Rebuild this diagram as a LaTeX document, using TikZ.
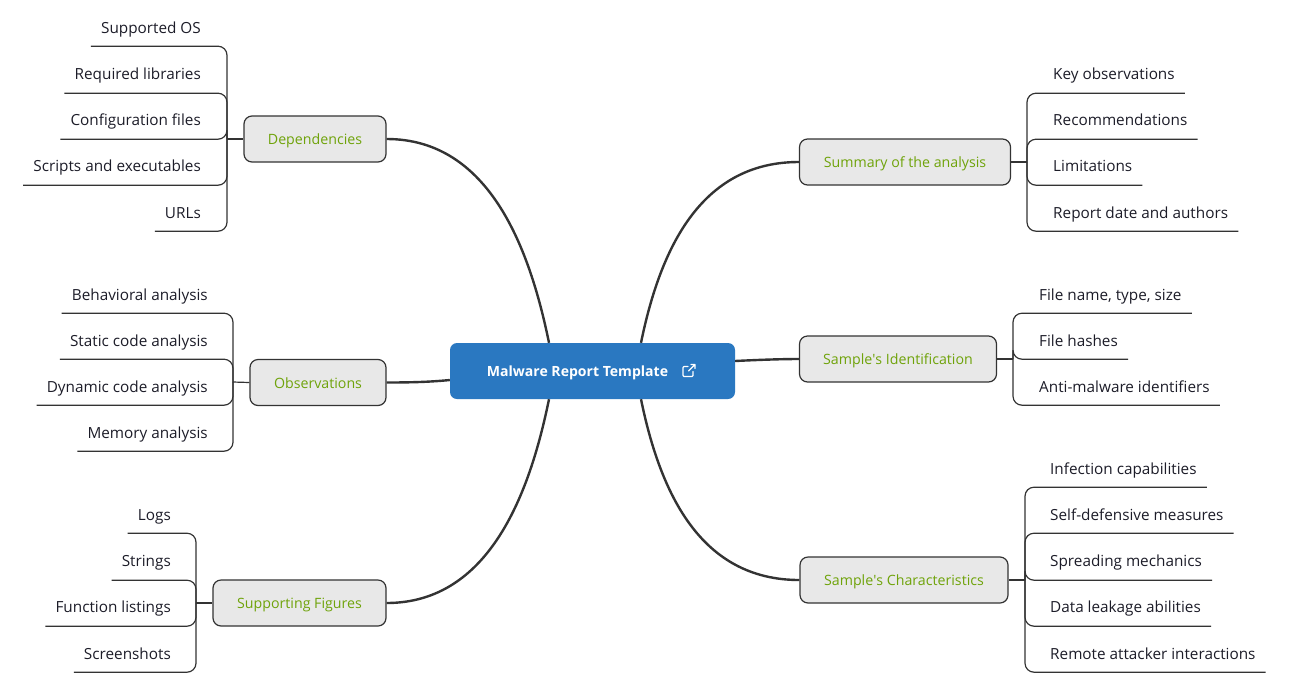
\documentclass[tikz,border=0pt]{standalone}
\usepackage{fontspec}
\setmainfont{Open Sans}
\definecolor{rootblue}{HTML}{2A78C1}
\definecolor{branchgreen}{HTML}{6FA30A}
\definecolor{branchfill}{HTML}{E8E8E8}
\definecolor{ink}{HTML}{333333}
\definecolor{leafink}{HTML}{1C1C28}
\tikzset{
  rootbox/.style={fill=rootblue,rounded corners=7pt,inner sep=0pt,text=white},
  branch/.style={draw=ink,line width=1.2pt,fill=branchfill,rounded corners=8pt,inner sep=0pt,
    text=branchgreen,text height=12pt,text depth=1pt,font=\fontsize{14.2}{16}\selectfont},
  leaf/.style={inner xsep=10pt,inner ysep=0pt,minimum height=36pt,text=leafink,
    text height=12pt,text depth=2pt,font=\fontsize{15.3}{18}\selectfont},
  leafL/.style={leaf,anchor=east},
  leafR/.style={leaf,anchor=west},
  tall/.style={minimum height=38pt},
  twig/.style={draw=ink,line width=1.2pt,rounded corners=9pt},
  stem/.style={draw=ink,line width=1.2pt},
  limb/.style={draw=ink,line width=2.4pt},
  icon/.style={draw=white,line width=1.2pt,line cap=round,line join=round},
}
\begin{document}
\begin{tikzpicture}[x=1pt,y=-1pt]
\useasboundingbox (0,0) rectangle (1289,686);
% centre
\node[rootbox,minimum width=285pt,minimum height=56pt] (root) at (592.5,371) {};
\node[inner sep=0pt,text=white,text height=13pt,text depth=2.5pt,font=\bfseries\fontsize{14.05}{16}\selectfont] (roottext) at (577.5,371) {Malware Report Template};
% branches
\node[branch,minimum width=142pt,minimum height=46pt] (dep) at (315,139) {Dependencies};
\node[branch,minimum width=136pt,minimum height=46pt] (obs) at (318,382.5) {Observations};
\node[branch,minimum width=173pt,minimum height=46pt] (fig) at (299.5,603) {Supporting Figures};
\node[branch,minimum width=211pt,minimum height=46pt] (sum) at (905,162) {Summary of the analysis};
\node[branch,minimum width=197pt,minimum height=46pt] (ide) at (898,359) {Sample\textquotesingle s Identification};
\node[branch,minimum width=208pt,minimum height=46pt] (cha) at (904,580) {Sample\textquotesingle s Characteristics};
% limbs
\draw[limb] (dep.east) .. controls (490,139) and (530,250) .. (root.north -| 549,0);
\draw[limb] (obs.east) .. controls (410,382.5) and (430,382) .. (root.west |- 0,380);
\draw[limb] (fig.east) .. controls (490,603) and (530,492) .. (root.south -| 549,0);
\draw[limb] (sum.west) .. controls (700,162) and (660,250) .. (root.north -| 641,0);
\draw[limb] (ide.west) .. controls (780,359) and (755,360) .. (root.east |- 0,361);
\draw[limb] (cha.west) .. controls (700,580) and (660,492) .. (root.south -| 641,0);
% junctions
\coordinate (jdep) at (227,139);
\coordinate (jobs) at (233,382);
\coordinate (jfig) at (196,603);
\coordinate (jsum) at (1027,162);
\coordinate (jide) at (1013,359);
\coordinate (jcha) at (1025,580);
% Dependencies leaves
\node[leafL] (d1) at (211,28) {Supported OS};
\node[leafL,tall] (d2) at (211,74) {Required libraries};
\node[leafL,tall] (d3) at (211,120) {Configuration files};
\node[leafL,tall] (d4) at (211,166) {Scripts and executables};
\node[leafL] (d5) at (211,213) {URLs};
% Observations leaves
\node[leafL] (o1) at (218,295) {Behavioral analysis};
\node[leafL] (o2) at (218,341) {Static code analysis};
\node[leafL] (o3) at (218,387) {Dynamic code analysis};
\node[leafL] (o4) at (218,433) {Memory analysis};
% Figures leaves
\node[leafL] (f1) at (181,515) {Logs};
\node[leafL,tall] (f2) at (181,561) {Strings};
\node[leafL,tall] (f3) at (181,607) {Function listings};
\node[leafL] (f4) at (181,654) {Screenshots};
% Summary leaves
\node[leafR,tall] (s1) at (1043,74) {Key observations};
\node[leafR,tall] (s2) at (1043,120) {Recommendations};
\node[leafR,tall] (s3) at (1043,166) {Limitations};
\node[leafR] (s4) at (1043,213) {Report date and authors};
% Identification leaves
\node[leafR] (i1) at (1029,295) {File name, type, size};
\node[leafR] (i2) at (1029,341) {File hashes};
\node[leafR] (i3) at (1029,387) {Anti-malware identifiers};
% Characteristics leaves
\node[leafR] (c1) at (1040,469) {Infection capabilities};
\node[leafR] (c2) at (1040,515) {Self-defensive measures};
\node[leafR,tall] (c3) at (1040,561) {Spreading mechanics};
\node[leafR,tall] (c4) at (1040,607) {Data leakage abilities};
\node[leafR] (c5) at (1040,654) {Remote attacker interactions};
% stems
\draw[stem] (jdep) -- (dep.west);
\draw[stem] (jobs) -- (obs.west);
\draw[stem] (jfig) -- (fig.west);
\draw[stem] (jsum) -- (sum.east);
\draw[stem] (jide) -- (ide.east);
\draw[stem] (jcha) -- (cha.east);
% twigs
\foreach \l in {d1,d2,d3,d4,d5} \draw[twig] (\l.south west) -| (jdep);
\foreach \l in {o1,o2,o3,o4} \draw[twig] (\l.south west) -| (jobs);
\foreach \l in {f1,f2,f3,f4} \draw[twig] (\l.south west) -| (jfig);
\foreach \l in {s1,s2,s3,s4} \draw[twig] (\l.south east) -| (jsum);
\foreach \l in {i1,i2,i3} \draw[twig] (\l.south east) -| (jide);
\foreach \l in {c1,c2,c3,c4,c5} \draw[twig] (\l.south east) -| (jcha);
% link icon
\draw[icon] (688,366.5) -- (684,366.5) -- (683,367.5) -- (683,375.5) -- (684,376.5) -- (692,376.5) -- (693,375.5) -- (693,371.5);
\draw[icon] (688.5,371) -- (695,364.5) (691,364.5) -- (695,364.5) -- (695,368.5);
\end{tikzpicture}
\end{document}
